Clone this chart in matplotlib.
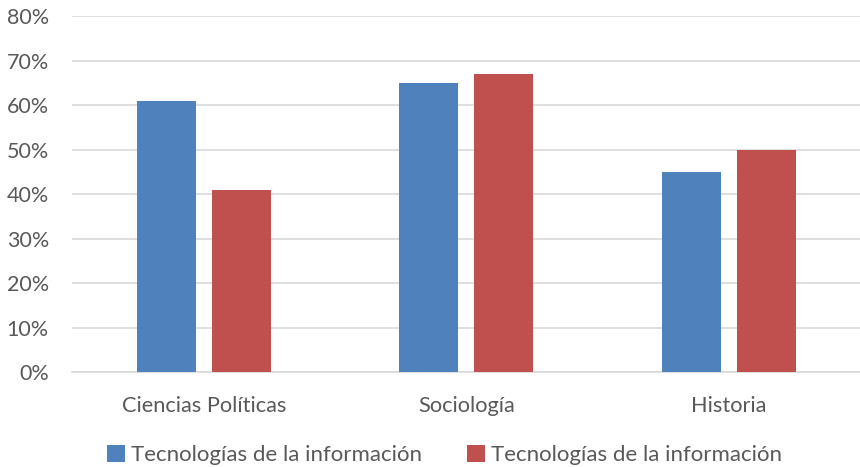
import numpy as np
import matplotlib
matplotlib.use("Agg")
from matplotlib import pyplot as plt
from matplotlib.ticker import PercentFormatter

categories = ['Ciencias Políticas', 'Sociología', 'Historia']
serie_1 = [61, 65, 45]
serie_2 = [41, 67, 50]
labels = ['Tecnologías de la información', 'Tecnologías de la información']

plt.rcParams['font.family'] = ['Lato', 'DejaVu Sans']
text_color = '#595959'

fig = plt.figure(figsize=(8.6, 4.67), dpi=100)
ax = fig.add_axes([0.0843, 0.2034, 0.9157, 0.7623])

x = np.arange(len(categories))
w = 0.224
off = 0.1426
ax.bar(x - off, serie_1, w, color='#4F81BD', label=labels[0], zorder=3)
ax.bar(x + off, serie_2, w, color='#C0504D', label=labels[1], zorder=3)

ax.set_xlim(-0.5, len(categories) - 0.5)
ax.set_ylim(0, 80)
ax.set_yticks(range(0, 81, 10))
ax.yaxis.set_major_formatter(PercentFormatter(decimals=0))
ax.set_xticks(x)
ax.set_xticklabels(categories)
ax.grid(axis='y', color='#D9D9D9', linewidth=1.2, zorder=0)
for s in ['top', 'right', 'left']:
    ax.spines[s].set_visible(False)
ax.spines['bottom'].set_color('#D9D9D9')
ax.spines['bottom'].set_linewidth(1.2)
ax.tick_params(axis='x', length=0, labelsize=15.7, colors=text_color, pad=17)
ax.tick_params(axis='y', length=0, labelsize=15.5, colors=text_color, pad=17)

ax.legend(loc='center', bbox_to_anchor=(0.517, 0.026), bbox_transform=fig.transFigure,
          ncol=2, frameon=False, fontsize=16, labelcolor=text_color,
          handlelength=0.8, handleheight=0.8, handletextpad=0.3, columnspacing=2.0)

fig.savefig('out.png', dpi=100)
